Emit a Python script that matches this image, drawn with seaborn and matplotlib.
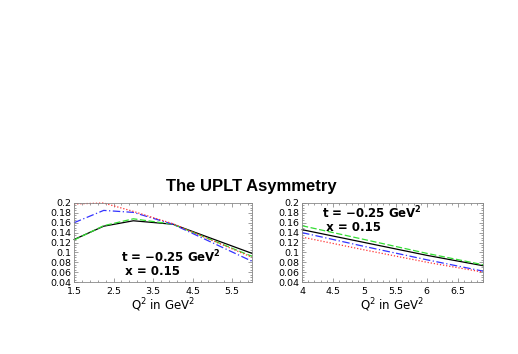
import matplotlib
matplotlib.use("Agg")
import matplotlib.pyplot as plt
import pandas as pd
import seaborn as sns

# left panel: asymmetry vs Q^2 (GeV^2)
q2_left = [1.5, 2.25, 3.0, 4.0, 6.0]
black_left = [0.126, 0.153, 0.164, 0.157, 0.098]
green_left = [0.125, 0.154, 0.168, 0.157, 0.092]
blue_left = [0.160, 0.185, 0.181, 0.157, 0.082]
red_left = [0.198, 0.200, 0.183, 0.158, 0.090]

# right panel
q2_right = [4.0, 5.0, 6.0, 6.9]
black_right = [0.146, 0.120, 0.094, 0.073]
green_right = [0.154, 0.126, 0.098, 0.075]
blue_right = [0.140, 0.112, 0.085, 0.062]
red_right = [0.131, 0.105, 0.080, 0.060]

styles = [
    ("black", "-", "black"),
    ("green", (0, (5, 2)), "#33dd33"),
    ("blue", (0, (6, 2, 1, 2)), "#3333ff"),
    ("red", (0, (1, 1.5)), "#ff3333"),
]

sns.set_style("ticks")
plt.rcParams["font.family"] = ["DejaVu Sans"]
plt.rcParams["mathtext.fontset"] = "dejavusans"
plt.rcParams["text.color"] = "black"
plt.rcParams["xtick.color"] = "#777777"
plt.rcParams["ytick.color"] = "#777777"
plt.rcParams["xtick.labelcolor"] = "black"
plt.rcParams["ytick.labelcolor"] = "black"
plt.rcParams["axes.labelcolor"] = "black"

fig = plt.figure(figsize=(5.18, 3.54), dpi=100)
W, H = 518, 354
ax1 = fig.add_axes([74 / W, 1 - 282 / H, 178 / W, 79 / H])
ax2 = fig.add_axes([302 / W, 1 - 282 / H, 181 / W, 79 / H])


def draw(ax, x, series, xlim, xticks):
    for (name, ls, col), y in zip(styles, series):
        df = pd.DataFrame({"Q2": x, "A": y})
        sns.lineplot(data=df, x="Q2", y="A", ax=ax, color=col, linestyle=ls,
                     linewidth=0.9, clip_on=False)
    ax.set_xlim(*xlim)
    ax.set_ylim(0.04, 0.2)
    ax.set_xticks(xticks)
    ax.set_xticklabels([f"{t:g}" for t in xticks])
    yt = [0.04, 0.06, 0.08, 0.1, 0.12, 0.14, 0.16, 0.18, 0.2]
    ax.set_yticks(yt)
    ax.set_yticklabels([f"{t:g}" for t in yt])
    ax.minorticks_on()
    ax.tick_params(which="both", direction="in", top=True, right=True,
                   labelsize=6.8, width=0.5)
    ax.tick_params(axis="x", pad=3.5)
    ax.tick_params(axis="y", pad=2)
    ax.tick_params(which="major", length=3)
    ax.tick_params(which="minor", length=1.5)
    for s in ax.spines.values():
        s.set_linewidth(0.6)
        s.set_color("#888888")
    ax.set_xlabel("Q$^2$ in GeV$^2$", fontsize=8.5, labelpad=0.5)
    ax.set_ylabel("")


draw(ax1, q2_left, [black_left, green_left, blue_left, red_left], (1.5, 6.0),
     [1.5, 2.5, 3.5, 4.5, 5.5])
draw(ax2, q2_right, [black_right, green_right, blue_right, red_right], (4.0, 6.9),
     [4, 4.5, 5, 5.5, 6, 6.5])

label = "t = \u22120.25 GeV$^{\\mathbf{2}}$\n x = 0.15"
kw = dict(fontsize=8.5, fontweight="bold", va="center", linespacing=0.95)
ax1.text(2.7, 0.078, label, **kw)
ax2.text(4.32, 0.1675, label, **kw)

fig.text(251 / W, 1 - 187 / H, "The UPLT Asymmetry", ha="center", va="center",
         fontsize=12, fontweight="bold", family="Liberation Sans")

fig.savefig("out.png", dpi=100)
